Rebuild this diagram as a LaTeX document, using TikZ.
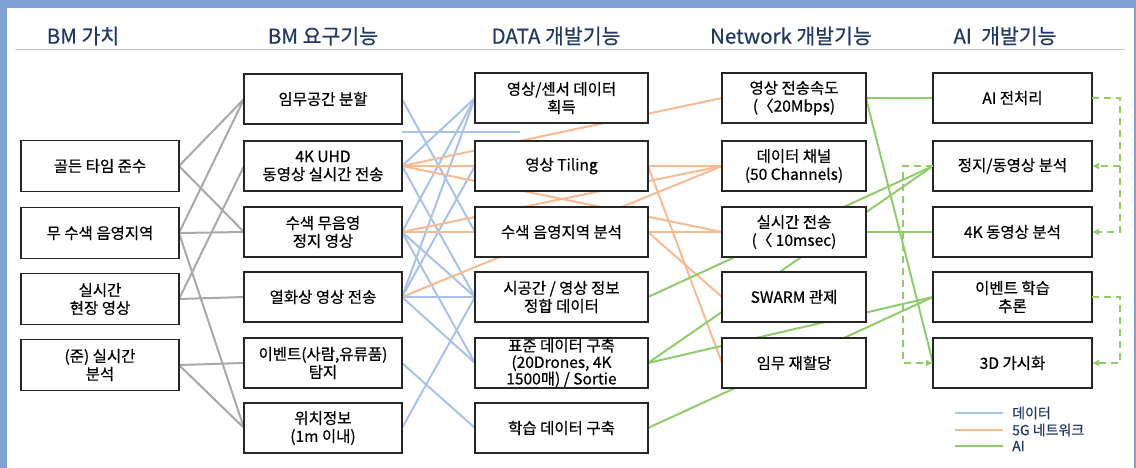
\documentclass[tikz,border=0pt]{standalone}
\usepackage{fontspec}
\setmainfont{Noto Sans CJK KR}[FakeBold=0.5]
\newfontfamily\headfont{Noto Sans CJK KR}[FakeBold=0.4]
\usetikzlibrary{arrows.meta,backgrounds}
\definecolor{frameblue}{RGB}{127,161,212}
\definecolor{navy}{RGB}{31,56,100}
\definecolor{cdata}{RGB}{168,194,234}
\definecolor{cnet}{RGB}{247,186,146}
\definecolor{cai}{RGB}{144,204,108}
\definecolor{cgray}{RGB}{168,168,168}
\begin{document}
\begin{tikzpicture}[x=1pt,y=-1pt,
  box/.style={draw=black!85, line width=1.3pt, fill=white, inner sep=0pt, outer sep=0pt,
    align=center, font=\fontsize{15.5}{18}\selectfont, minimum height=50pt},
  w1/.style={box, minimum width=158pt, minimum height=51pt},
  w2/.style={box, minimum width=158pt},
  w3/.style={box, minimum width=173pt},
  w4/.style={box, minimum width=144pt},
  w5/.style={box, minimum width=159pt},
  head/.style={font=\headfont\fontsize{20.5}{24}\selectfont, text=navy},
  legendtext/.style={font=\fontsize{14}{15}\selectfont, text=navy, anchor=west, inner sep=0pt},
  lgray/.style={cgray, line width=2pt},
  ldata/.style={cdata, line width=2pt},
  lnet/.style={cnet, line width=2pt},
  lai/.style={cai, line width=2pt},
  dashai/.style={cai, line width=2pt, dash pattern=on 7pt off 5pt, -{Latex[length=7pt,width=7pt]}},
]
\useasboundingbox (0,0) rectangle (1136,468);
% frame
\fill[frameblue] (0,0) rectangle (1136,8);
\fill[frameblue] (0,0) rectangle (7,468);
\fill[frameblue] (1133.5,0) rectangle (1136,468);
% headers
\node[head] (h1) at (83,36) {BM 가치};
\node[head] (h2) at (323,36) {BM 요구기능};
\node[head] (h3) at (556,36) {DATA 개발기능};
\node[head] (h4) at (791,36) {Network 개발기능};
\node[head] (h5) at (1005,36) {AI\ \ 개발기능};
\draw[black!22, line width=1pt] (15,50) -- (1125,50);
% column 1
\node[w1] (a1) at (100,166) {골든 타임 준수};
\node[w1] (a2) at (100,233) {무 수색 음영지역};
\node[w1] (a3) at (100,299) {실시간\\현장 영상};
\node[w1] (a4) at (100,365) {(준) 실시간\\분석};
% column 2
\node[w2] (b1) at (323,99) {임무공간 분할};
\node[w2] (b2) at (323,166) {4K UHD\\동영상 실시간 전송};
\node[w2] (b3) at (323,232) {수색 무음영\\정지 영상};
\node[w2] (b4) at (323,297) {열화상 영상 전송};
\node[w2] (b5) at (323,363) {이벤트(사람,유류품)\\탐지};
\node[w2] (b6) at (323,428) {위치정보\\(1m 이내)};
% column 3
\node[w3] (d1) at (561.5,98) {영상/센서 데이터\\획득};
\node[w3] (d2) at (561.5,166) {영상 Tiling};
\node[w3] (d3) at (561.5,232) {수색 음영지역 분석};
\node[w3] (d4) at (561.5,297) {시공간 / 영상 정보\\정합 데이터};
\node[w3, font=\fontsize{15.5}{16.5}\selectfont] (d5) at (561.5,363) {표준 데이터 구축\\(20Drones, 4K\\1500매) / Sortie};
\node[w3] (d6) at (561.5,428) {학습 데이터 구축};
% column 4
\node[w4] (n1) at (794,98) {영상 전송속도\\(〈20Mbps)};
\node[w4] (n2) at (794,166) {데이터 채널\\(50 Channels)};
\node[w4] (n3) at (794,232) {실시간 전송\\(〈 10msec)};
\node[w4] (n4) at (794,297) {SWARM 관제};
\node[w4] (n5) at (794,363) {임무 재할당};
% column 5
\node[w5] (i1) at (1012.5,98) {AI 전처리};
\node[w5] (i2) at (1012.5,166) {정지/동영상 분석};
\node[w5] (i3) at (1012.5,232) {4K 동영상 분석};
\node[w5] (i4) at (1012.5,297) {이벤트 학습\\추론};
\node[w5] (i5) at (1012.5,363) {3D 가시화};
% connectors behind boxes
\begin{scope}[on background layer]
  \draw[lgray] (a1.east) -- (b1.west);
  \draw[lgray] (a1.east) -- (b3.west);
  \draw[lgray] (a2.east) -- (b1.west);
  \draw[lgray] (a2.east) -- (b3.west);
  \draw[lgray] (a2.east) -- (b6.west);
  \draw[lgray] (a3.east) -- (b2.west);
  \draw[lgray] (a3.east) -- (b4.west);
  \draw[lgray] (a4.east) -- (b5.west);
  \draw[lgray] (a4.east) -- (b6.west);
  % data
  \draw[ldata] (b1.east) -- (d3.west);
  \draw[ldata] (b2.east) -- (d1.west);
  \draw[ldata] (b2.east) -- (d4.west);
  \draw[ldata] (b3.east) -- (d1.west);
  \draw[ldata] (b3.east) -- (d4.west);
  \draw[ldata] (b3.east) -- (d5.west);
  \draw[ldata] (b4.east) -- (d1.west);
  \draw[ldata] (b4.east) -- (d2.west);
  \draw[ldata] (b4.east) -- (d4.west);
  \draw[ldata] (b4.east) -- (d5.west);
  \draw[ldata] (b5.east) -- (d6.west);
  \draw[ldata] (b6.east) -- (d4.west);
  \coordinate (s1) at (402,132);
  \coordinate (s2) at (520,132);
  \draw[ldata] (s1) -- (s2);
  % 5G network
  \draw[lnet] (b2.east) -- (n1.west);
  \draw[lnet] (b2.east) -- (d2.west);
  \draw[lnet] (d2.east) -- (n2.west);
  \draw[lnet] (b2.east) -- (n3.west);
  \draw[lnet] (b3.east) -- (n2.west);
  \draw[lnet] (b3.east) -- (d3.west);
  \draw[lnet] (d3.east) -- (n3.west);
  \draw[lnet] (b4.east) -- (n2.west);
  \draw[lnet] (d2.east) -- (n5.west);
  \draw[lnet] (d3.east) -- (n4.west);
  % AI
  \draw[lai] (d4.east) -- (i2.west);
  \draw[lai] (d5.east) -- (i2.west);
  \draw[lai] (d5.east) -- (i4.west);
  \draw[lai] (d6.east) -- (i4.west);
  \draw[lai] (n1.east) -- (i1.west);
  \draw[lai] (n1.east) -- (i5.west);
  \draw[lai] (n3.east) -- (i3.west);
\end{scope}
% dashed AI flow
\coordinate (rr) at (1120,0);
\draw[dashai] (i1.east) -- (rr |- i1.east) |- (i3.east);
\draw[dashai] (rr |- i2.east) -- (i2.east);
\draw[dashai] (i4.east) -- (rr |- i4.east) |- (i5.east);
\coordinate (ll) at (903,0);
\draw[dashai] (i2.west) -- (ll |- i2.west) |- (i5.west);
% legend
\coordinate (g1a) at (955,413); \coordinate (g1b) at (1003,413);
\coordinate (g2a) at (955,430); \coordinate (g2b) at (1003,430);
\coordinate (g3a) at (955,446); \coordinate (g3b) at (1003,446);
\draw[ldata] (g1a) -- (g1b);
\draw[lnet] (g2a) -- (g2b);
\draw[lai] (g3a) -- (g3b);
\node[legendtext] (t1) at (1012,413) {데이터};
\node[legendtext] (t2) at (1012,430) {5G 네트워크};
\node[legendtext] (t3) at (1012,446) {AI};
\end{tikzpicture}
\end{document}
